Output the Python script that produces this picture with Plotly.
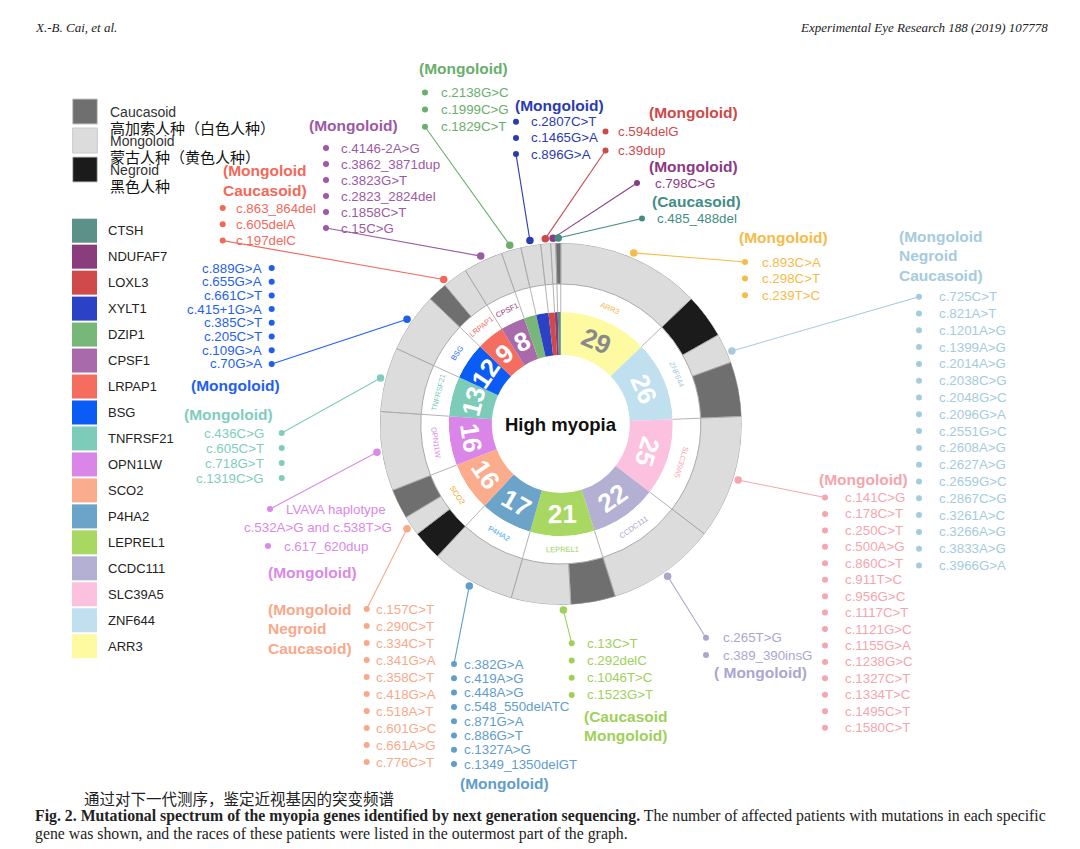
import math
import plotly.graph_objects as go

W, H = 1080, 849
SANS = "Liberation Sans, Arial, sans-serif"
SERIF = "Liberation Serif, Times New Roman, serif"
CJK = "Noto Sans CJK SC, sans-serif"

# ---------------- data ----------------
genes = ["ARR3", "ZNF644", "SLC39A5", "CCDC111", "LEPREL1", "P4HA2", "SCO2", "OPN1LW",
         "TNFRSF21", "BSG", "LRPAP1", "CPSF1", "DZIP1", "XYLT1", "LOXL3", "NDUFAF7", "CTSH"]
patients = [29, 26, 25, 22, 21, 17, 16, 16, 13, 12, 9, 8, 4, 4, 2, 1, 1]

# outer race ring, clockwise order inside each gene
race_gene = ["ARR3", "ZNF644", "ZNF644", "ZNF644", "SLC39A5", "CCDC111", "LEPREL1", "LEPREL1",
             "P4HA2", "SCO2", "SCO2", "SCO2", "OPN1LW", "TNFRSF21", "BSG", "LRPAP1", "LRPAP1",
             "CPSF1", "DZIP1", "XYLT1", "LOXL3", "NDUFAF7", "CTSH"]
race_name = ["Mongoloid", "Negroid", "Mongoloid", "Caucasoid", "Mongoloid", "Mongoloid", "Caucasoid",
             "Mongoloid", "Mongoloid", "Negroid", "Mongoloid", "Caucasoid", "Mongoloid", "Mongoloid",
             "Mongoloid", "Caucasoid", "Mongoloid", "Mongoloid", "Mongoloid", "Mongoloid", "Mongoloid",
             "Mongoloid", "Caucasoid"]
race_count = [29, 9, 6, 11, 25, 22, 9, 12, 17, 6, 4, 6, 16, 13, 12, 4, 5, 8, 4, 4, 2, 1, 1]

legend_genes = ["CTSH", "NDUFAF7", "LOXL3", "XYLT1", "DZIP1", "CPSF1", "LRPAP1", "BSG", "TNFRSF21",
                "OPN1LW", "SCO2", "P4HA2", "LEPREL1", "CCDC111", "SLC39A5", "ZNF644", "ARR3"]
legend_races = ["Caucasoid", "Mongoloid", "Negroid"]
legend_races_cn = ["高加索人种（白色人种）", "蒙古人种（黄色人种）", "黑色人种"]

mut_DZIP1 = ["c.2138G>C", "c.1999C>G", "c.1829C>T"]
mut_XYLT1 = ["c.2807C>T", "c.1465G>A", "c.896G>A"]
mut_LOXL3 = ["c.594delG", "c.39dup"]
mut_NDUFAF7 = ["c.798C>G"]
mut_CTSH = ["c.485_488del"]
mut_ARR3 = ["c.893C>A", "c.298C>T", "c.239T>C"]
mut_ZNF644 = ["c.725C>T", "c.821A>T", "c.1201A>G", "c.1399A>G", "c.2014A>G", "c.2038C>G",
              "c.2048G>C", "c.2096G>A", "c.2551G>C", "c.2608A>G", "c.2627A>G", "c.2659G>C",
              "c.2867C>G", "c.3261A>C", "c.3266A>G", "c.3833A>G", "c.3966G>A"]
mut_SLC39A5 = ["c.141C>G", "c.178C>T", "c.250C>T", "c.500A>G", "c.860C>T", "c.911T>C", "c.956G>C",
               "c.1117C>T", "c.1121G>C", "c.1155G>A", "c.1238G>C", "c.1327C>T", "c.1334T>C",
               "c.1495C>T", "c.1580C>T"]
mut_CCDC111 = ["c.265T>G", "c.389_390insG"]
mut_LEPREL1 = ["c.13C>T", "c.292delC", "c.1046T>C", "c.1523G>T"]
mut_P4HA2 = ["c.382G>A", "c.419A>G", "c.448A>G", "c.548_550delATC", "c.871G>A", "c.886G>T",
             "c.1327A>G", "c.1349_1350delGT"]
mut_SCO2 = ["c.157C>T", "c.290C>T", "c.334C>T", "c.341G>A", "c.358C>T", "c.418G>A", "c.518A>T",
            "c.601G>C", "c.661A>G", "c.776C>T"]
mut_OPN1LW = ["LVAVA haplotype", "c.532A>G and c.538T>G", "c.617_620dup"]
mut_TNFRSF21 = ["c.436C>G", "c.605C>T", "c.718G>T", "c.1319C>G"]
mut_BSG = ["c.889G>A", "c.655G>A", "c.661C>T", "c.415+1G>A", "c.385C>T", "c.205C>T", "c.109G>A", "c.70G>A"]
mut_LRPAP1 = ["c.863_864del", "c.605delA", "c.197delC"]
mut_CPSF1 = ["c.4146-2A>G", "c.3862_3871dup", "c.3823G>T", "c.2823_2824del", "c.1858C>T", "c.15C>G"]

races_DZIP1 = ["(Mongoloid)"]
races_XYLT1 = ["(Mongoloid)"]
races_LOXL3 = ["(Mongoloid)"]
races_NDUFAF7 = ["(Mongoloid)"]
races_CTSH = ["(Caucasoid)"]
races_ARR3 = ["(Mongoloid)"]
races_ZNF644 = ["(Mongoloid", "Negroid", "Caucasoid)"]
races_SLC39A5 = ["(Mongoloid)"]
races_CCDC111 = ["( Mongoloid)"]
races_LEPREL1 = ["(Caucasoid", "Mongoloid)"]
races_P4HA2 = ["(Mongoloid)"]
races_SCO2 = ["(Mongoloid", "Negroid", "Caucasoid)"]
races_OPN1LW = ["(Mongoloid)"]
races_TNFRSF21 = ["(Mongoloid)"]
races_BSG = ["(Mongoloid)"]
races_LRPAP1 = ["(Mongoloid", "Caucasoid)"]
races_CPSF1 = ["(Mongoloid)"]

center_label = "High myopia"
header_left = "X.-B. Cai, et al."
header_right = "Experimental Eye Research 188 (2019) 107778"
caption_cn = "通过对下一代测序，鉴定近视基因的突变频谱"
caption_bold = "Fig. 2. Mutational spectrum of the myopia genes identified by next generation sequencing."
caption_1 = " The number of affected patients with mutations in each specific"
caption_2 = "gene was shown, and the races of these patients were listed in the outermost part of the graph."

# ---------------- styles ----------------
gene_colors = {"CTSH": "#5b9189", "NDUFAF7": "#8a3c7d", "LOXL3": "#d14a4a", "XYLT1": "#2b41c6",
               "DZIP1": "#77b878", "CPSF1": "#a96aab", "LRPAP1": "#f56d5f", "BSG": "#0b5cf5",
               "TNFRSF21": "#7dccb9", "OPN1LW": "#da86e8", "SCO2": "#faac8d", "P4HA2": "#6ba3c9",
               "LEPREL1": "#a9d862", "CCDC111": "#b3b0d4", "SLC39A5": "#fcc1de", "ZNF644": "#c0e0ef",
               "ARR3": "#fefaa2"}
text_colors = {"CTSH": "#3f8d84", "NDUFAF7": "#8b3a82", "LOXL3": "#cf4848", "XYLT1": "#2a3bb0",
               "DZIP1": "#6aae6c", "CPSF1": "#9c5aa3", "LRPAP1": "#f4685a", "BSG": "#1f5ff0",
               "TNFRSF21": "#80cdbd", "OPN1LW": "#d98ae6", "SCO2": "#f8a98a", "P4HA2": "#5f9dca",
               "LEPREL1": "#9fd05a", "CCDC111": "#aaa7ce", "SLC39A5": "#f5a5ad", "ZNF644": "#a6cbdc",
               "ARR3": "#f6bb48"}
ring_label_colors = dict(text_colors, SCO2="#f2a521", P4HA2="#4aa8e8", CPSF1="#8b3a82")
race_colors = {"Caucasoid": "#6f6f6f", "Mongoloid": "#dcdcdc", "Negroid": "#1b1b1b"}

# label block layout: gene -> (title_x, title_ys, dot_xs, text_xs, ys, text_anchor, leader_item)
def col(v, n):
    return [v] * n

def rows(y0, dy, n):
    return [y0 + i * dy for i in range(n)]

blocks = {
    "DZIP1": (417, [68], col(425, 3), col(439, 3), rows(92.5, 17.1, 3), "left", 2),
    "XYLT1": (513, [105], col(516, 3), col(529, 3), rows(121.7, 16.2, 3), "left", 2),
    "LOXL3": (647, [112], col(605.5, 2), col(616, 2), rows(131.5, 19, 2), "left", 1),
    "NDUFAF7": (647, [166], col(637, 1), col(653, 1), [183], "left", 0),
    "CTSH": (650, [201], col(642, 1), col(655, 1), [218.5], "left", 0),
    "ARR3": (737, [237], col(745, 3), col(760, 3), rows(262, 16.6, 3), "left", 0),
    "ZNF644": (897, [236, 255.5, 275], col(919, 17), col(937, 17), rows(296.7, 16.8, 17), "left", 0),
    "SLC39A5": (817, [479], col(825, 15), col(843, 15), rows(497.5, 16.44, 15), "left", 0),
    "CCDC111": (712, [672], col(706, 2), col(721, 2), rows(637.7, 17.3, 2), "left", 0),
    "LEPREL1": (582, [716.7, 735.5], col(571.7, 4), col(585, 4), rows(643.3, 17.2, 4), "left", 0),
    "P4HA2": (458, [783], col(454, 8), col(462, 8), rows(664, 14.3, 8), "left", 0),
    "SCO2": (266, [609, 628, 648], col(366.7, 10), col(374, 10), rows(609, 17, 10), "left", 0),
    "OPN1LW": (266, [572], [270, None, 268], [284, 242, 282], [509, 527, 546], "left", 0),
    "TNFRSF21": (182, [414], col(281.7, 4), col(266, 4), rows(433, 15, 4), "right", 0),
    "BSG": (189, [385], col(271.7, 8), col(264, 8), rows(268, 13.7, 8), "right", 7),
    "LRPAP1": (221, [170, 190], col(222.7, 3), col(234, 3), rows(208, 16.3, 3), "left", 2),
    "CPSF1": (307, [125], col(326, 6), col(339, 6), rows(148, 16, 6), "left", 5),
}
muts = {"DZIP1": mut_DZIP1, "XYLT1": mut_XYLT1, "LOXL3": mut_LOXL3, "NDUFAF7": mut_NDUFAF7,
        "CTSH": mut_CTSH, "ARR3": mut_ARR3, "ZNF644": mut_ZNF644, "SLC39A5": mut_SLC39A5,
        "CCDC111": mut_CCDC111, "LEPREL1": mut_LEPREL1, "P4HA2": mut_P4HA2, "SCO2": mut_SCO2,
        "OPN1LW": mut_OPN1LW, "TNFRSF21": mut_TNFRSF21, "BSG": mut_BSG, "LRPAP1": mut_LRPAP1,
        "CPSF1": mut_CPSF1}
race_titles = {"DZIP1": races_DZIP1, "XYLT1": races_XYLT1, "LOXL3": races_LOXL3, "NDUFAF7": races_NDUFAF7,
               "CTSH": races_CTSH, "ARR3": races_ARR3, "ZNF644": races_ZNF644, "SLC39A5": races_SLC39A5,
               "CCDC111": races_CCDC111, "LEPREL1": races_LEPREL1, "P4HA2": races_P4HA2, "SCO2": races_SCO2,
               "OPN1LW": races_OPN1LW, "TNFRSF21": races_TNFRSF21, "BSG": races_BSG, "LRPAP1": races_LRPAP1,
               "CPSF1": races_CPSF1}

# ---------------- geometry ----------------
CX, CY = 560.8, 424.0
R_HOLE, R_GENE, R_LABEL, R_OUT = 69, 112, 140, 181
R_ANCHOR = 186

total = sum(patients)
dpp = 360.0 / total
g_start, acc = [], 0
for v in patients:
    g_start.append(acc * dpp)
    acc += v
g_width = [v * dpp for v in patients]
g_mid = [s + w / 2 for s, w in zip(g_start, g_width)]
gidx = {g: i for i, g in enumerate(genes)}

r_theta, r_width, acc = [], [], 0
for c in race_count:
    r_theta.append((acc + c / 2) * dpp)
    r_width.append(c * dpp)
    acc += c


def pol2px(th, r):
    a = math.radians(th)
    return CX + r * math.sin(a), CY - r * math.cos(a)


def tang(th):
    if th <= 120:
        return th
    if th < 270:
        return th - 180
    return th - 360


fig = go.Figure()

# gene ring
fig.add_trace(go.Barpolar(theta=g_mid, width=g_width, base=[R_HOLE] * len(genes),
                          r=[R_GENE - R_HOLE] * len(genes),
                          marker=dict(color=[gene_colors[g] for g in genes], line=dict(width=0)),
                          hoverinfo="skip", showlegend=False))
# white label ring
fig.add_trace(go.Barpolar(theta=g_mid, width=g_width, base=[R_GENE] * len(genes),
                          r=[R_LABEL - R_GENE] * len(genes),
                          marker=dict(color="white", line=dict(width=0)),
                          hoverinfo="skip", showlegend=False))
# race ring
fig.add_trace(go.Barpolar(theta=r_theta, width=r_width, base=[R_LABEL] * len(race_count),
                          r=[R_OUT - R_LABEL] * len(race_count),
                          marker=dict(color=[race_colors[n] for n in race_name],
                                      line=dict(width=1, color="#a9a9a9")),
                          hoverinfo="skip", showlegend=False))
# division lines in label ring
div_t, div_r = [], []
for s in g_start:
    div_t += [s, s, None]
    div_r += [R_GENE, R_LABEL, None]
fig.add_trace(go.Scatterpolar(theta=div_t, r=div_r, mode="lines",
                              line=dict(color="#b3b3b3", width=1), hoverinfo="skip", showlegend=False))

ann = []


def txt(x, y, s, size, color, anchor="left", bold=False, family=SANS, angle=0):
    ann.append(dict(x=x, y=y, xref="x", yref="y", text=("<b>%s</b>" % s) if bold else s,
                    showarrow=False, xanchor=anchor, yanchor="middle", textangle=angle,
                    font=dict(size=size, color=color, family=family)))


# numbers and ring labels
for i, g in enumerate(genes):
    if patients[i] < 5:
        continue
    x, y = pol2px(g_mid[i], (R_HOLE + R_GENE) / 2)
    txt(x, y, str(patients[i]), 26, "#8a8a8a" if g == "ARR3" else "white", "center", True,
        angle=tang(g_mid[i]))
    x, y = pol2px(g_mid[i], (R_GENE + R_LABEL) / 2)
    txt(x, y, g, 7.5, ring_label_colors[g], "center", angle=tang(g_mid[i]))

txt(CX, CY, center_label, 18.5, "#111", "center", True)

# mutation blocks, dots and leader lines
for g, (tx, tys, dxs, txs, ys, anc, li) in blocks.items():
    c = text_colors[g]
    for line, ty in zip(race_titles[g], tys):
        txt(tx, ty, line, 15.5, c, "left", True)
    dx_pts, dy_pts = [], []
    for s, dx, tx2, y in zip(muts[g], dxs, txs, ys):
        txt(tx2, y, s.replace(">", "&gt;"), 13.3, c, anc)
        if dx is not None:
            dx_pts.append(dx)
            dy_pts.append(y)
    ax, ay = pol2px(g_mid[gidx[g]], R_ANCHOR)
    fig.add_trace(go.Scatter(x=[dxs[li], ax], y=[ys[li], ay], mode="lines",
                             line=dict(color=c, width=1.1), hoverinfo="skip", showlegend=False))
    fig.add_trace(go.Scatter(x=dx_pts, y=dy_pts, mode="markers",
                             marker=dict(color=c, size=6), hoverinfo="skip", showlegend=False))
    fig.add_trace(go.Scatter(x=[ax], y=[ay], mode="markers",
                             marker=dict(color=c, size=7.5), hoverinfo="skip", showlegend=False))

# legends
shapes = []
for i, rn in enumerate(legend_races):
    y0 = 99 + i * 29
    shapes.append(dict(type="rect", xref="x", yref="y", x0=72.7, x1=97.3, y0=y0, y1=y0 + 25,
                       fillcolor=race_colors[rn], line=dict(color="#c8c8c8", width=1)))
    txt(108, y0 + 13, rn, 14, "#333", "left")
    txt(108, y0 + 28.5, legend_races_cn[i], 15, "#111", "left", family=CJK)
for i, g in enumerate(legend_genes):
    yc = 230.7 + i * 25.97
    shapes.append(dict(type="rect", xref="x", yref="y", x0=72, x1=97, y0=yc - 12, y1=yc + 12,
                       fillcolor=gene_colors[g], line=dict(width=0)))
    txt(106, yc, g, 13, "#222", "left")

# header and caption
txt(33, 27, "<i>%s</i>" % header_left, 13, "#222", "left", family=SERIF)
txt(1050, 27, "<i>%s</i>" % header_right, 13, "#222", "right", family=SERIF)
txt(82, 798, caption_cn, 15.5, "#222", "left", family=CJK)
txt(33, 815.5, "<b>%s</b>%s" % (caption_bold, caption_1), 15.8, "#222", "left", family=SERIF)
txt(33, 833.5, caption_2, 15.8, "#222", "left", family=SERIF)

fig.update_layout(
    width=W, height=H, margin=dict(l=0, r=0, t=0, b=0),
    paper_bgcolor="white", plot_bgcolor="rgba(0,0,0,0)",
    xaxis=dict(range=[0, W], visible=False, fixedrange=True, domain=[0, 1]),
    yaxis=dict(range=[H, 0], visible=False, fixedrange=True, domain=[0, 1]),
    polar=dict(domain=dict(x=[(CX - R_OUT) / W, (CX + R_OUT) / W],
                           y=[1 - (CY + R_OUT) / H, 1 - (CY - R_OUT) / H]),
               bgcolor="rgba(0,0,0,0)",
               radialaxis=dict(range=[0, R_OUT], visible=False),
               angularaxis=dict(visible=False, direction="clockwise", rotation=90)),
    annotations=ann, shapes=shapes, showlegend=False,
)

fig.write_html("out.html", config={"displayModeBar": False},
               post_script="document.body.style.margin='0';document.body.style.overflow='hidden';")
